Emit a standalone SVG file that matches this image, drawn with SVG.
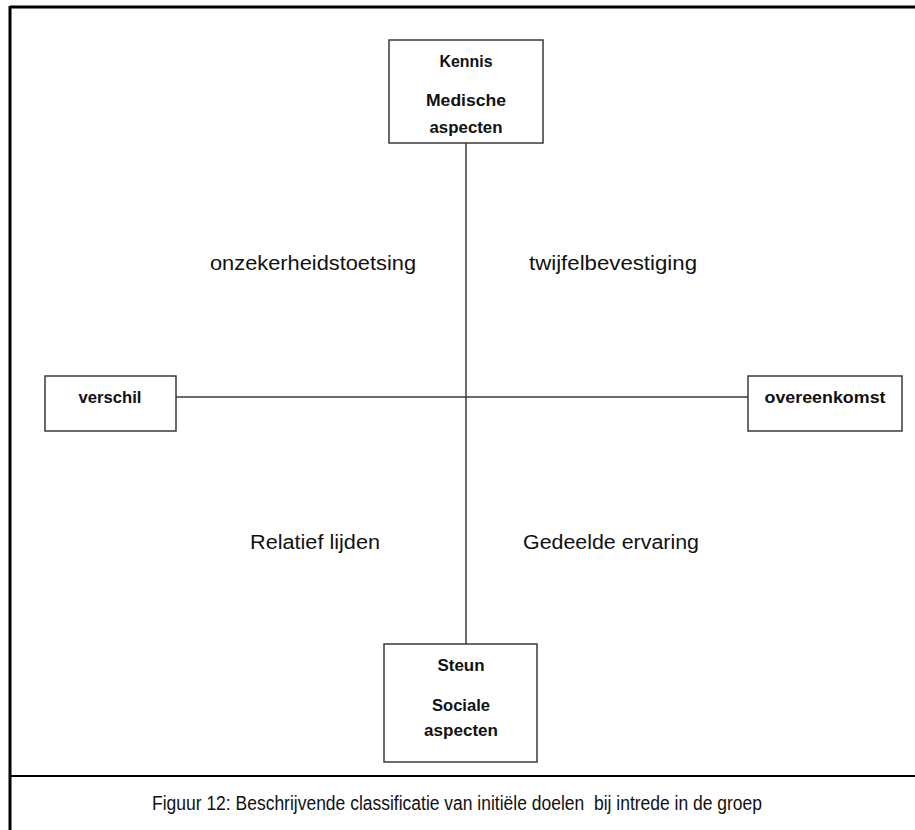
<svg xmlns="http://www.w3.org/2000/svg" width="915" height="830" viewBox="0 0 915 830">
<style>
.box{fill:#fff;stroke:#3a3a3a;stroke-width:1.5}
.ax{stroke:#3a3a3a;stroke-width:1.5;fill:none}
.b{font-family:"Liberation Sans",Arial,sans-serif;font-weight:bold;font-size:17px;fill:#111;text-anchor:middle;dominant-baseline:central}
.r{font-family:"Liberation Sans",Arial,sans-serif;font-size:20px;fill:#111;text-anchor:middle;dominant-baseline:central}
</style>
<rect width="915" height="830" fill="#fff"/>
<g id="frame">
<line x1="10" y1="7" x2="915" y2="7" stroke="#000" stroke-width="3"/>
<line x1="10" y1="6" x2="10" y2="830" stroke="#000" stroke-width="3"/>
<line x1="10" y1="776" x2="915" y2="776" stroke="#000" stroke-width="2"/>
</g>
<g id="connectors">
<line class="ax" x1="466" y1="143" x2="466" y2="644"/>
<line class="ax" x1="176" y1="397" x2="748" y2="397"/>
</g>
<g id="node-top">
<rect class="box" x="389" y="40" width="154" height="103"/>
<text class="b" x="466" y="61" textLength="53" lengthAdjust="spacingAndGlyphs">Kennis</text>
<text class="b" x="466" y="100" textLength="80" lengthAdjust="spacingAndGlyphs">Medische</text>
<text class="b" x="466" y="127" textLength="73" lengthAdjust="spacingAndGlyphs">aspecten</text>
</g>
<g id="node-bottom">
<rect class="box" x="384" y="644" width="153" height="118"/>
<text class="b" x="461" y="665" textLength="47" lengthAdjust="spacingAndGlyphs">Steun</text>
<text class="b" x="461" y="705" textLength="58" lengthAdjust="spacingAndGlyphs">Sociale</text>
<text class="b" x="461" y="730" textLength="74" lengthAdjust="spacingAndGlyphs">aspecten</text>
</g>
<g id="node-left">
<rect class="box" x="45" y="376" width="131" height="55"/>
<text class="b" x="110" y="397" textLength="63" lengthAdjust="spacingAndGlyphs">verschil</text>
</g>
<g id="node-right">
<rect class="box" x="748" y="376" width="154" height="55"/>
<text class="b" x="825" y="397" textLength="121" lengthAdjust="spacingAndGlyphs">overeenkomst</text>
</g>
<g id="quadrant-labels">
<text class="r" x="313" y="263" textLength="206" lengthAdjust="spacingAndGlyphs">onzekerheidstoetsing</text>
<text class="r" x="613" y="263" textLength="168" lengthAdjust="spacingAndGlyphs">twijfelbevestiging</text>
<text class="r" x="315" y="542" textLength="130" lengthAdjust="spacingAndGlyphs">Relatief lijden</text>
<text class="r" x="611" y="542" textLength="176" lengthAdjust="spacingAndGlyphs">Gedeelde ervaring</text>
</g>
<g id="caption">
<text class="r" x="457" y="803" textLength="610" lengthAdjust="spacingAndGlyphs">Figuur 12: Beschrijvende classificatie van initiële doelen&#160; bij intrede in de groep</text>
</g>
</svg>
